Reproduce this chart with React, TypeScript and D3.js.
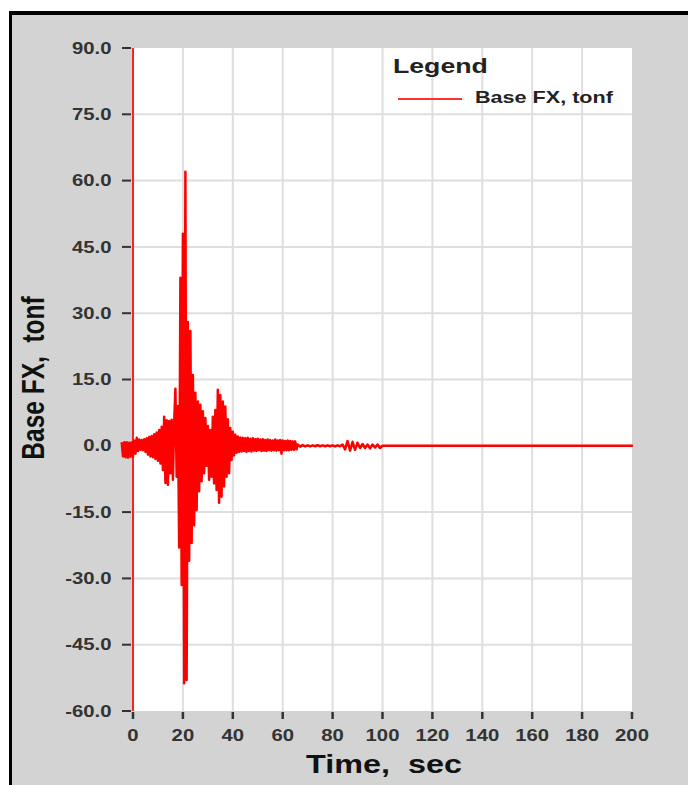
import React from "react";
import * as d3 from "d3";

// ---- data ----
const X_TICKS = [0, 20, 40, 60, 80, 100, 120, 140, 160, 180, 200];
const Y_TICKS = [-60, -45, -30, -15, 0, 15, 30, 45, 60, 75, 90];
const X_TITLE = "Time,  sec";
const Y_TITLE = "Base FX,  tonf";
const LEGEND_TITLE = "Legend";
const SERIES_NAME = "Base FX, tonf";

// main record: sampled every 0.5 s starting at -4.5 s
const MAIN_START = -4.5;
const MAIN_DT = 0.5;
const mainValues = [
  0.6, -2.4, 0.8, -2.6, 0.8, -2.7, 0.7, -2.5, 0.8, -2.4,
  1.2, -1.8, 1.8, -1.2, 1.4, -0.9, 1.3, -1.0, 1.5, -1.4,
  1.7, -2.0, 2.0, -2.4, 2.2, -2.6, 2.6, -3.0, 3.0, -3.4,
  3.6, -4.0, 4.3, -5.5, 6.6, -8.4, 5.8, -8.8, 5.6, -6.2,
  5.9, -7.7, 5.2, 12.9, -7.0, 9.0, -23.0, 38.0, -31.5, 48.0,
  -53.7, 62.0, -53.0, 28.0, -26.0, 26.0, -22.0, 16.0, -18.0, 12.0,
  -14.5, 10.0, -10.3, 9.3, -8.0, 7.8, -6.2, 6.3, -4.5, 4.5,
  -7.7, 3.6, -7.0, 6.6, -8.5, 8.1, -10.0, 12.7, -12.9, 11.5,
  -11.5, 10.0, -9.2, 8.9, -7.0, 6.0, -6.2, 4.0, -3.2, 3.2,
  -2.2, 2.5, -1.6, 2.1, -1.4, 1.9, -1.3, 1.8, -1.2, 1.7,
  -1.4, 1.8, -1.2, 1.6, -1.3, 1.7, -1.1, 1.5, -1.2, 1.6,
  -1.0, 1.4, -1.2, 1.5, -1.1, 1.3, -1.2, 1.4, -1.0, 1.3,
  -1.1, 1.2, -1.0, 1.4, -1.1, 1.2, -1.0, 1.3, -1.8, 1.2,
  -1.0, 1.1, -1.0, 1.2, -1.0, 1.1, -0.9, 1.0, -0.9, 1.0,
  -0.8,
];

// tail: sampled every 1 s starting at 66 s
const TAIL_START = 66;
const TAIL_DT = 1;
const tailValues = [
  0.3, -0.2, 0.15, -0.15, 0.1, -0.15, 0.1, -0.1, 0.15, -0.1,
  0.1, -0.1, 0.1, -0.1, 0.1, -0.15, 0.1, -0.1, 0.3, -0.8,
  1.1, -1.1, 0.9, -0.9, 0.7, -0.5, 0.4, -0.5, 0.3, -0.6,
  0.3, -0.4, 0.3, -0.5, 0.0,
];
const END_TIME = 200;
const END_VALUE = 0;

// ---- layout ----
const W = 688;
const H = 785;
const PLOT = { left: 133, right: 632, top: 48, bottom: 711 };
const SX = 1.27; // horizontal stretch of the reference's lettering
const FONT = "'Liberation Sans', Arial, Helvetica, sans-serif";

const locale = d3.formatLocale({
  decimal: ".",
  thousands: ",",
  grouping: [3],
  currency: ["", ""],
  minus: "-",
});

export default function App() {
  const x = d3.scaleLinear().domain([0, 200]).range([PLOT.left, PLOT.right]);
  const y = d3.scaleLinear().domain([-60, 90]).range([PLOT.bottom, PLOT.top]);

  const points: [number, number][] = [
    ...mainValues.map((v, i) => [MAIN_START + i * MAIN_DT, v] as [number, number]),
    ...tailValues.map((v, i) => [TAIL_START + i * TAIL_DT, v] as [number, number]),
    [END_TIME, END_VALUE],
  ];
  const line = d3
    .line<[number, number]>()
    .x((d) => x(d[0]))
    .y((d) => y(d[1]));

  const fmt = locale.format(".1f");

  return (
    <svg
      width={W}
      height={H}
      style={{ position: "absolute", left: 0, top: 0, display: "block" }}
    >
      <rect x={0} y={0} width={W} height={H} fill="#ffffff" />
      <rect x={9} y={11} width={W - 9} height={H - 11} fill="#000000" />
      <rect x={12} y={15} width={W - 12} height={H - 15} fill="#d3d3d3" />

      {/* plot area */}
      <rect
        x={PLOT.left}
        y={PLOT.top}
        width={PLOT.right - PLOT.left}
        height={PLOT.bottom - PLOT.top}
        fill="#ffffff"
      />

      {/* grid */}
      {X_TICKS.filter((t) => t > 0 && t < 200).map((t) => (
        <line
          key={"gx" + t}
          x1={x(t)}
          x2={x(t)}
          y1={PLOT.top}
          y2={PLOT.bottom}
          stroke="#dedede"
          strokeWidth={2}
        />
      ))}
      {Y_TICKS.filter((t) => t > -60 && t < 90).map((t) => (
        <line
          key={"gy" + t}
          x1={PLOT.left}
          x2={PLOT.right}
          y1={y(t)}
          y2={y(t)}
          stroke="#dedede"
          strokeWidth={2}
        />
      ))}

      {/* y axis line */}
      <line
        x1={x(0)}
        x2={x(0)}
        y1={PLOT.top}
        y2={PLOT.bottom}
        stroke="#ff2020"
        strokeWidth={2}
      />

      {/* y ticks + labels */}
      {Y_TICKS.map((t) => (
        <g key={"ty" + t}>
          <line
            x1={122}
            x2={131}
            y1={y(t)}
            y2={y(t)}
            stroke="#333333"
            strokeWidth={2}
          />
          <text
            transform={`translate(111.5,${y(t) + 5.6}) scale(${SX},1)`}
            textAnchor="end"
            fontFamily={FONT}
            fontWeight="bold"
            fontSize={16}
            fill="#333333"
          >
            {fmt(t)}
          </text>
        </g>
      ))}

      {/* x ticks + labels */}
      {X_TICKS.map((t) => (
        <g key={"tx" + t}>
          <line
            x1={x(t)}
            x2={x(t)}
            y1={712}
            y2={719}
            stroke="#333333"
            strokeWidth={2.5}
          />
          <text
            transform={`translate(${x(t)},740.5) scale(${SX},1)`}
            textAnchor="middle"
            fontFamily={FONT}
            fontWeight="bold"
            fontSize={16}
            fill="#333333"
          >
            {t}
          </text>
        </g>
      ))}

      {/* data */}
      <path
        d={line(points) || ""}
        fill="none"
        stroke="#ff0000"
        strokeWidth={2.5}
        strokeLinejoin="round"
        strokeLinecap="round"
      />

      {/* axis titles */}
      <text
        transform={`translate(384,773) scale(${SX},1)`}
        textAnchor="middle"
        fontFamily={FONT}
        fontWeight="bold"
        fontSize={25.5}
        fill="#111111"
        style={{ whiteSpace: "pre" }}
      >
        {X_TITLE}
      </text>
      <text
        transform={`translate(43.5,378) scale(${SX},1) rotate(-90)`}
        textAnchor="middle"
        fontFamily={FONT}
        fontWeight="bold"
        fontSize={24.5}
        fill="#111111"
        style={{ whiteSpace: "pre" }}
      >
        {Y_TITLE}
      </text>

      {/* legend */}
      <text
        transform={`translate(393,73.3) scale(${SX},1)`}
        fontFamily={FONT}
        fontWeight="bold"
        fontSize={21}
        fill="#222222"
      >
        {LEGEND_TITLE}
      </text>
      <line x1={398} x2={462} y1={99} y2={99} stroke="#ff3030" strokeWidth={2} />
      <text
        transform={`translate(475,103.3) scale(${SX},1)`}
        fontFamily={FONT}
        fontWeight="bold"
        fontSize={17}
        fill="#222222"
      >
        {SERIES_NAME}
      </text>
    </svg>
  );
}
